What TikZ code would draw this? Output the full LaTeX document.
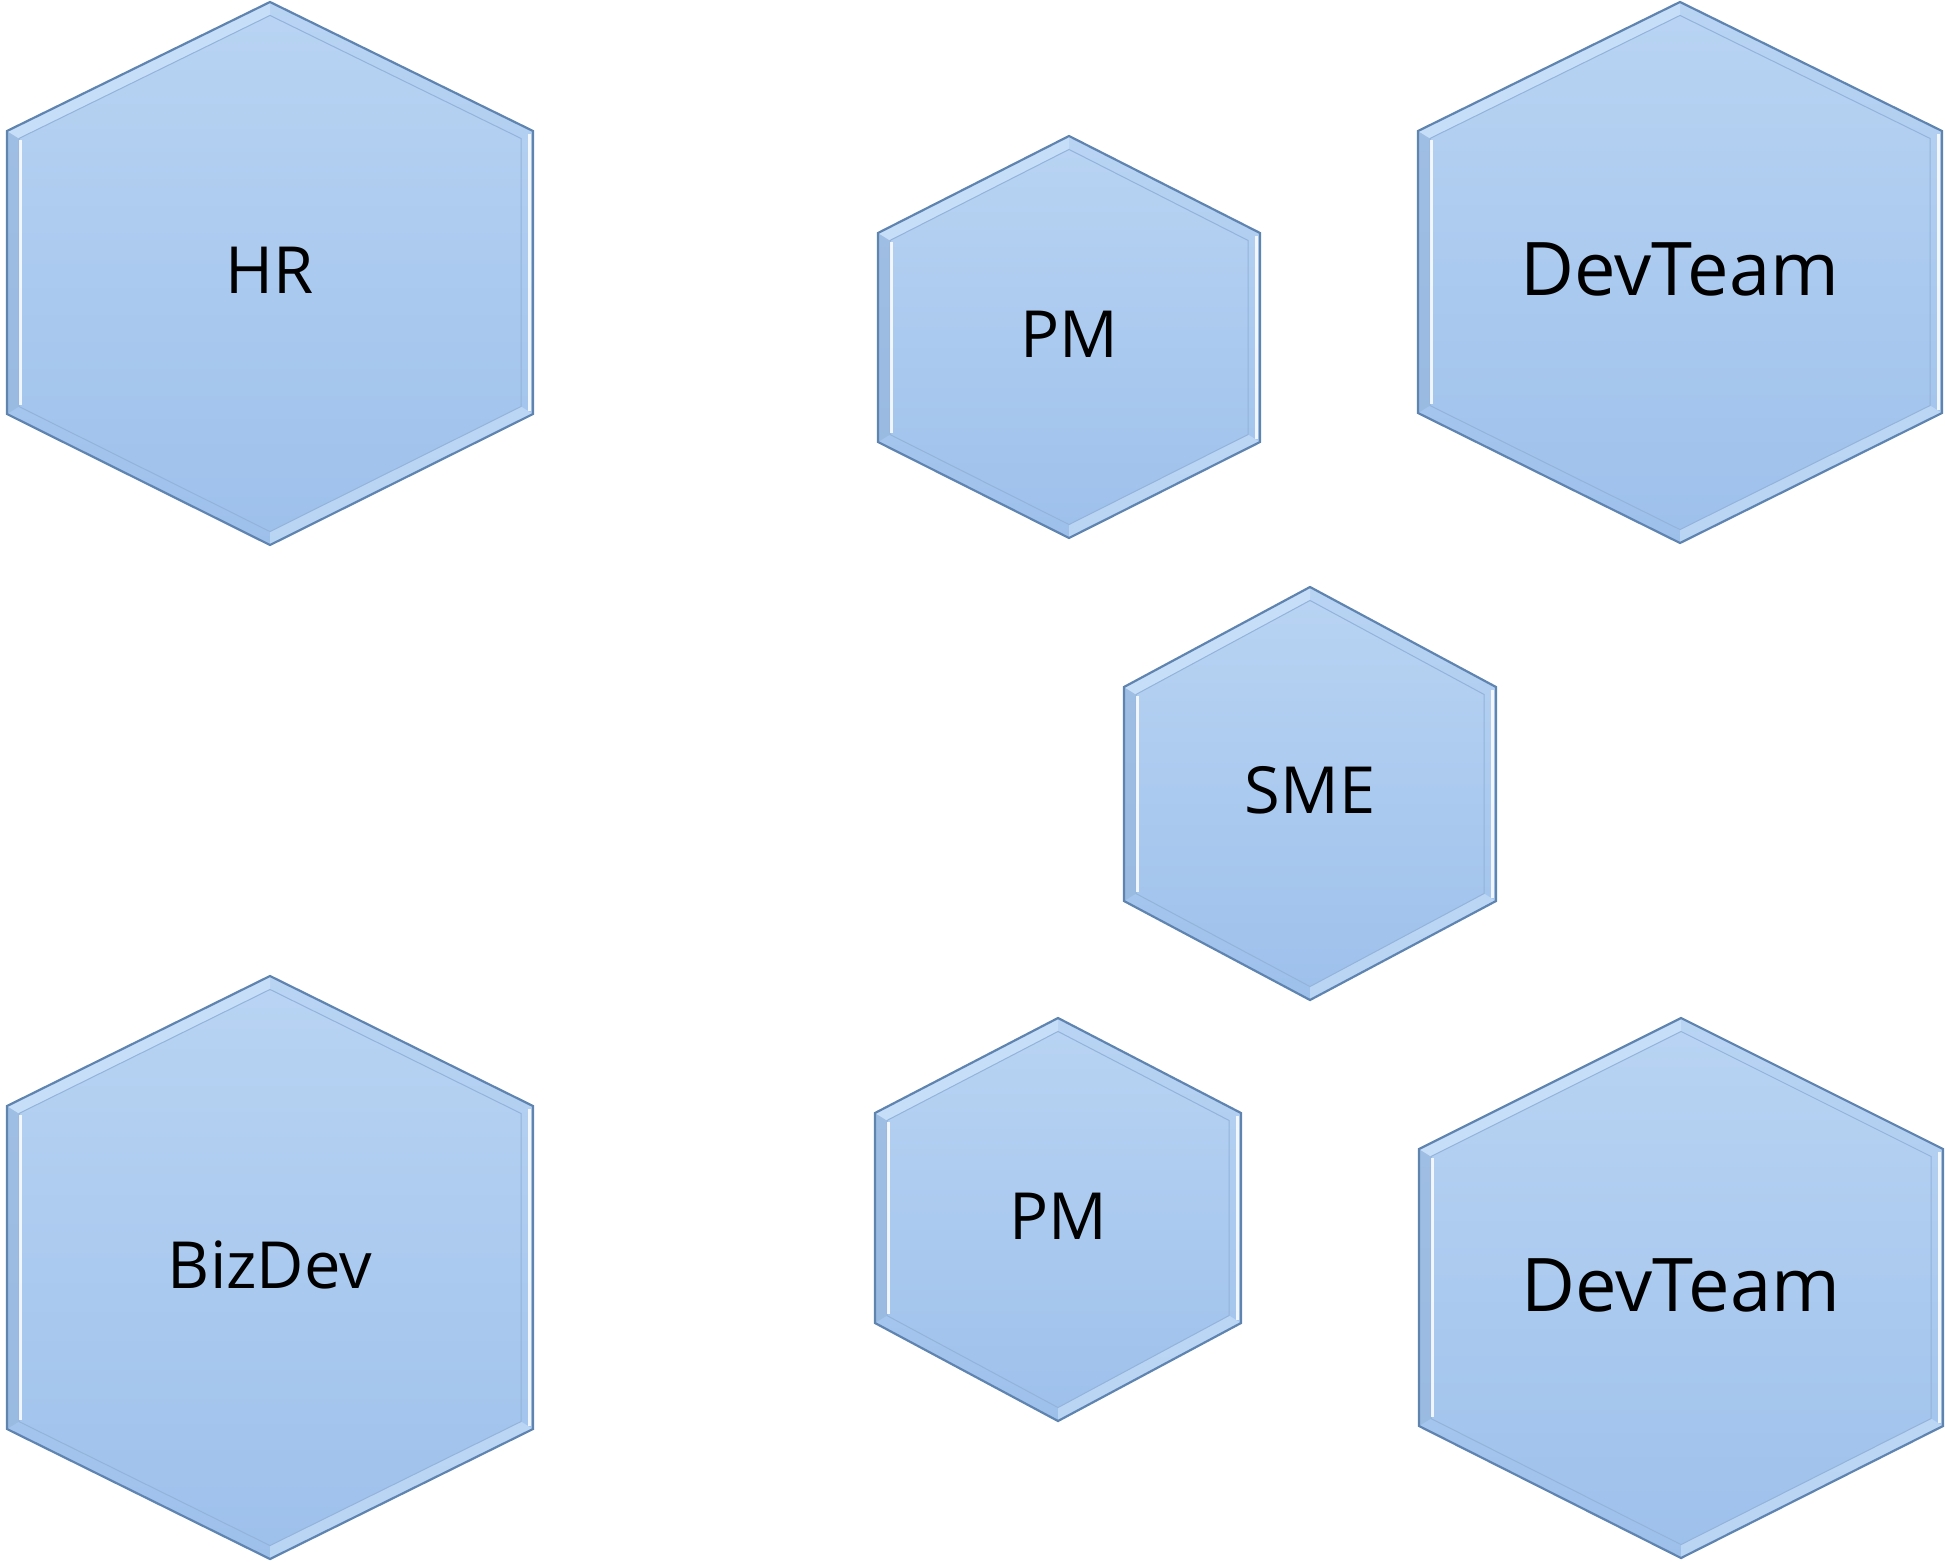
\documentclass[tikz,border=0pt]{standalone}
\usepackage{fontspec}
\setmainfont{Open Sans}
\definecolor{hexline}{HTML}{5F84B0}
\definecolor{hextop}{HTML}{B9D4F3}
\definecolor{hexbot}{HTML}{9DC0EB}
\definecolor{bevdark}{HTML}{93B3DA}
\definecolor{bevlight}{HTML}{C6DEF8}
\tikzset{
  hexfill/.style={top color=hextop, bottom color=hexbot},
  hexedge/.style={draw=hexline, line width=2.2pt, line join=miter},
  innerline/.style={draw=bevdark, line width=1pt, line join=miter},
  hilite/.style={draw=white, line width=3pt, opacity=0.85},
  lbl/.style={inner sep=0pt, anchor=center, text=black}
}
% #1 name, #2 cx, #3 top, #4 s1, #5 s2, #6 bottom, #7 half width, #8 font size, #9 text
\newcommand\hexcell[9]{%
  \pgfmathsetmacro\hd{12}%
  \path[hexfill] (#2,-#3) -- (#2+#7,-#4) -- (#2+#7,-#5) -- (#2,-#6) -- (#2-#7,-#5) -- (#2-#7,-#4) -- cycle;
  % left band (darker)
  \fill[bevdark, opacity=0.6] (#2-#7,-#4) -- (#2-#7,-#5) -- (#2-#7+\hd,-#5+0.62*\hd) -- (#2-#7+\hd,-#4-0.62*\hd) -- cycle;
  % top-left band (lighter)
  \fill[bevlight] (#2,-#3) -- (#2-#7,-#4) -- (#2-#7+\hd,-#4-0.62*\hd) -- (#2,-#3-1.12*\hd) -- cycle;
  % bottom-right band (lighter)
  \fill[bevlight, opacity=0.7] (#2,-#6) -- (#2+#7,-#5) -- (#2+#7-\hd,-#5+0.62*\hd) -- (#2,-#6+1.12*\hd) -- cycle;
  % inner outline
  \path[innerline] (#2,-#3-1.12*\hd) -- (#2+#7-\hd,-#4-0.62*\hd) -- (#2+#7-\hd,-#5+0.62*\hd) -- (#2,-#6+1.12*\hd) -- (#2-#7+\hd,-#5+0.62*\hd) -- (#2-#7+\hd,-#4-0.62*\hd) -- cycle;
  % highlights
  \draw[hilite] (#2-#7+\hd+1.5,-#4-0.62*\hd-2) -- (#2-#7+\hd+1.5,-#5+0.62*\hd+2);
  \draw[hilite] (#2+#7-3.5,-#4-3) -- (#2+#7-3.5,-#5+3);
  \path[hexedge] (#2,-#3) -- (#2+#7,-#4) -- (#2+#7,-#5) -- (#2,-#6) -- (#2-#7,-#5) -- (#2-#7,-#4) -- cycle;
  \node[lbl, font=\fontsize{#8}{#8}\selectfont] (#1) at (#2,{-(#3+#6)/2+3}) {#9};
}
\begin{document}
\begin{tikzpicture}[x=1pt,y=1pt]
  \useasboundingbox (0,0) rectangle (1945,-1562);
  \hexcell{hr}{270}{2}{131}{414}{545}{263}{65}{HR}
  \hexcell{pmtop}{1069}{136}{233}{442}{538}{191}{65}{PM}
  \hexcell{devtop}{1680}{2}{131}{413}{543}{262}{74}{DevTeam}
  \hexcell{sme}{1310}{587}{687}{901}{1000}{186}{65}{SME}
  \hexcell{bizdev}{270}{976}{1106}{1429}{1559}{263}{65}{BizDev}
  \hexcell{pmbot}{1058}{1018}{1113}{1323}{1421}{183}{65}{PM}
  \hexcell{devbot}{1681}{1018}{1149}{1426}{1558}{262}{74}{DevTeam}
\end{tikzpicture}
\end{document}
